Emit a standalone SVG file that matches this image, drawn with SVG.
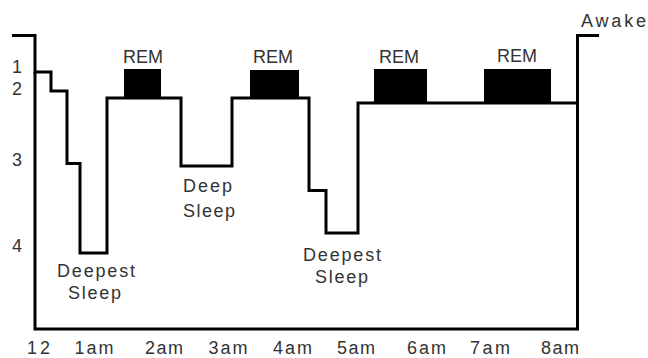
<svg xmlns="http://www.w3.org/2000/svg" width="648" height="358" viewBox="0 0 648 358">
<style>
.ln{fill:none;stroke:#000;stroke-width:3;stroke-linejoin:miter;stroke-linecap:butt}
.rem{fill:#000}
text{font-family:"Liberation Sans",Arial,sans-serif;font-size:18px;fill:#333}
.m{text-anchor:middle}
</style>
<rect width="648" height="358" fill="#fff"/>
<g id="connectors">
<path class="ln" d="M12,35.5 H35 V72 H51 V91 H67 V163.5 H80 V253 H107 V98 H181 V166 H232 V98 H309 V190.5 H326 V233 H358 V103 H577.5 V35.5 H599"/>
<path class="ln" d="M35,72 V329 H577.5 V103"/>
</g>
<g id="rem1"><rect class="rem" x="124" y="69" width="37" height="29"/><text class="m" x="143" y="63" textLength="40">REM</text></g>
<g id="rem2"><rect class="rem" x="250" y="70" width="49" height="28"/><text class="m" x="273" y="63" textLength="40">REM</text></g>
<g id="rem3"><rect class="rem" x="374" y="69" width="53" height="34"/><text class="m" x="399" y="63" textLength="40">REM</text></g>
<g id="rem4"><rect class="rem" x="484" y="69" width="67" height="34"/><text class="m" x="517" y="62" textLength="40">REM</text></g>
<g id="awake"><text x="581" y="27" textLength="65">Awake</text></g>
<g id="stages">
<text x="12" y="73">1</text>
<text x="12" y="95">2</text>
<text x="12" y="166">3</text>
<text x="12" y="252">4</text>
</g>
<g id="deepest1"><text class="m" x="96" y="277" textLength="78">Deepest</text><text class="m" x="94.5" y="299" textLength="53">Sleep</text></g>
<g id="deep2"><text x="183" y="192" textLength="49">Deep</text><text x="183" y="217" textLength="52">Sleep</text></g>
<g id="deepest3"><text class="m" x="342" y="261" textLength="78">Deepest</text><text class="m" x="341.5" y="283" textLength="53">Sleep</text></g>
<g id="times">
<text class="m" x="38.5" y="354" textLength="23">12</text>
<text class="m" x="94" y="354" textLength="39">1am</text>
<text class="m" x="164" y="354" textLength="38">2am</text>
<text class="m" x="228" y="354" textLength="39">3am</text>
<text class="m" x="292.5" y="354" textLength="39">4am</text>
<text class="m" x="356" y="354" textLength="38">5am</text>
<text class="m" x="426.5" y="354" textLength="39">6am</text>
<text class="m" x="490" y="354" textLength="40">7am</text>
<text class="m" x="560" y="354" textLength="38">8am</text>
</g>
</svg>
